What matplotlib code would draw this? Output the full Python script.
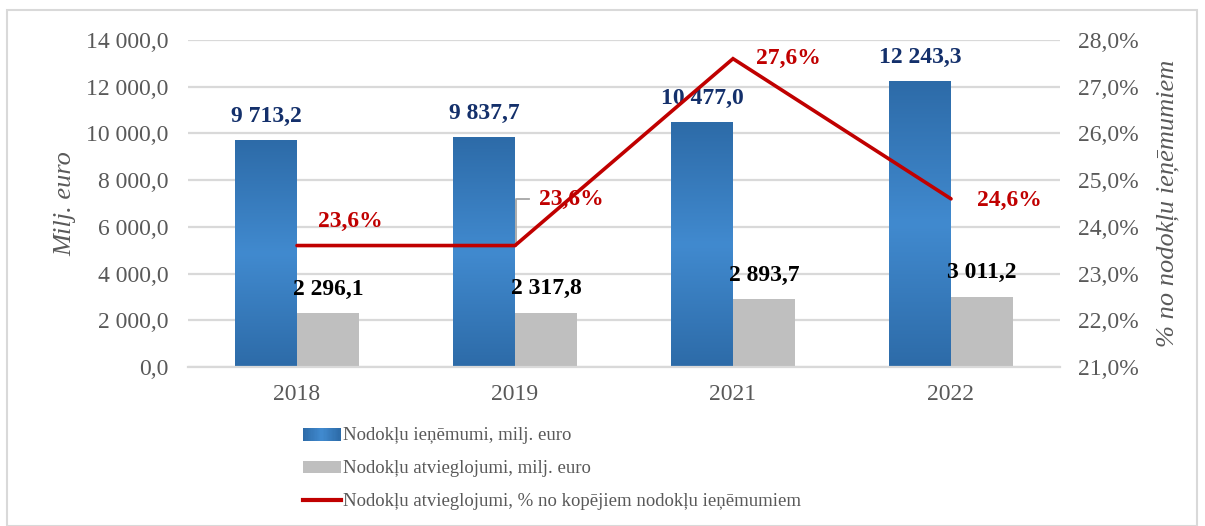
import numpy as np
import matplotlib
matplotlib.use("Agg")
import matplotlib.pyplot as plt
from matplotlib.colors import LinearSegmentedColormap
from matplotlib.patches import Rectangle
from matplotlib.lines import Line2D
from matplotlib.legend_handler import HandlerBase

# ---- data ----
years = ["2018", "2019", "2021", "2022"]
revenue = [9713.2, 9837.7, 10477.0, 12243.3]          # Nodokļu ieņēmumi, milj. euro
relief = [2296.1, 2317.8, 2893.7, 3011.2]             # Nodokļu atvieglojumi, milj. euro
relief_share = [23.6, 23.6, 27.6, 24.6]               # % no kopējiem nodokļu ieņēmumiem
left_ticks = [0, 2000, 4000, 6000, 8000, 10000, 12000, 14000]
right_ticks = [21, 22, 23, 24, 25, 26, 27, 28]

legend_labels = [
    "Nodokļu ieņēmumi, milj. euro",
    "Nodokļu atvieglojumi, milj. euro",
    "Nodokļu atvieglojumi, % no kopējiem nodokļu ieņēmumiem",
]

# ---- style ----
SERIF = "Liberation Serif"
TICK_C = "#595959"
GRID_C = "#D9D9D9"
BLUE_DARK = "#2D6BA8"
BLUE_LIGHT = "#418ACF"
GRAY_BAR = "#BFBFBF"
RED = "#C00000"
NAVY = "#14306B"

plt.rcParams["font.family"] = [SERIF, "DejaVu Serif"]

fig = plt.figure(figsize=(12.05, 5.26), dpi=100)
ax = fig.add_axes([188 / 1205, 1 - 367 / 526, (1060 - 188) / 1205, (367 - 40) / 526])
ax2 = ax.twinx()

# outer frame of the chart
fig.patches.append(Rectangle((7 / 1205, 0.0), (1197 - 7) / 1205, 1 - 10 / 526,
                             transform=fig.transFigure, fill=False,
                             edgecolor="#D9D9D9", linewidth=1.5, zorder=0))

x = np.arange(len(years))
bw = 0.284

blue_cmap = LinearSegmentedColormap.from_list(
    "bluegrad", [BLUE_DARK, BLUE_LIGHT, BLUE_DARK])
grad = np.linspace(0, 1, 256).reshape(-1, 1)

# revenue bars with vertical gradient fill
bars_rev = ax.bar(x - bw / 2, revenue, width=bw, color="none", zorder=2)
for b in bars_rev:
    x0, y0 = b.get_x(), b.get_y()
    w, h = b.get_width(), b.get_height()
    im = ax.imshow(grad, cmap=blue_cmap, aspect="auto",
                   extent=[x0, x0 + w, y0, y0 + h], origin="lower", zorder=2)
    im.set_clip_path(b)
ax.set_xlim(-0.5, len(years) - 0.5)
ax.set_ylim(0, 14000)

bars_rel = ax.bar(x + bw / 2, relief, width=bw, color=GRAY_BAR, zorder=2)


def fmt_num(v):
    return f"{v:,.1f}".replace(",", " ").replace(".", ",")


# value labels for bars
for xi, v in zip(x - bw / 2, revenue):
    ax.annotate(fmt_num(v), (xi, v), xytext=(0, 24), textcoords="offset pixels",
                ha="center", va="center", fontsize=17, fontweight="bold",
                color=NAVY, zorder=5)
for xi, v in zip(x + bw / 2, relief):
    ax.annotate(fmt_num(v), (xi, v), xytext=(0, 24), textcoords="offset pixels",
                ha="center", va="center", fontsize=17, fontweight="bold",
                color="black", zorder=5)

# grid & axes styling
ax.set_yticks(left_ticks)
ax.set_yticklabels([fmt_num(t) for t in left_ticks])
ax.yaxis.grid(True, color=GRID_C, linewidth=1.6, zorder=0)
ax.set_axisbelow(True)
ax.set_xticks(x)
ax.set_xticklabels(years)
ax.tick_params(axis="y", length=0, pad=14, labelsize=17, labelcolor=TICK_C)
ax.tick_params(axis="x", length=0, pad=12, labelsize=17, labelcolor=TICK_C)
for s in ["top", "left", "right"]:
    ax.spines[s].set_visible(False)
ax.spines["bottom"].set_color(GRID_C)
ax.spines["bottom"].set_linewidth(1.6)
ax.set_ylabel("Milj. euro", fontsize=19, style="italic", color=TICK_C)
ax.yaxis.set_label_coords(-112 / 872, 0.5)

# share line on secondary axis
ax2.set_ylim(21, 28)
ax2.plot(x, relief_share, color=RED, linewidth=2.6, solid_capstyle="round",
         solid_joinstyle="miter", zorder=4)
ax2.set_yticks(right_ticks)
ax2.set_yticklabels([f"{t:.1f}%".replace(".", ",") for t in right_ticks])
ax2.tick_params(axis="y", length=0, pad=13, labelsize=17, labelcolor=TICK_C)
for s in ["top", "left", "right", "bottom"]:
    ax2.spines[s].set_visible(False)
ax2.set_ylabel("% no nodokļu ieņēmumiem", fontsize=19, style="italic",
               color=TICK_C)
ax2.yaxis.set_label_coords(1 + 96 / 872, 0.5)

share_offsets = [(53, 24), (56, 46), (55, 0), (58, -2)]
for xi, v, off in zip(x, relief_share, share_offsets):
    ax2.annotate(f"{v:.1f}%".replace(".", ","), (xi, v), xytext=off,
                 textcoords="offset pixels", ha="center", va="center",
                 fontsize=17, fontweight="bold", color=RED, zorder=6)

# leader line for the 2019 share label
p0 = ax2.transData.transform((x[1], relief_share[1]))
pts = np.array([p0 + (1, 0), p0 + (1, 47), p0 + (14, 47)])
pts_d = ax2.transData.inverted().transform(pts)
ax2.plot(pts_d[:, 0], pts_d[:, 1], color="#A6A6A6", linewidth=1.3, zorder=3)


# legend with gradient swatch for revenue bars
class GradientHandler(HandlerBase):
    def create_artists(self, legend, orig_handle, xdescent, ydescent,
                       width, height, fontsize, trans):
        arts = []
        n = 30
        for i in range(n):
            r = Rectangle((xdescent + width * i / n, ydescent), width / n + 0.3, height,
                          facecolor=blue_cmap(i / (n - 1)), edgecolor="none",
                          transform=trans)
            arts.append(r)
        return arts


class GradientKey:
    pass


handles = [GradientKey(),
           Rectangle((0, 0), 1, 1, facecolor=GRAY_BAR, edgecolor="none"),
           Line2D([0], [0], color=RED, linewidth=3)]
leg = fig.legend(handles, legend_labels, loc="upper left",
                 bbox_to_anchor=(295 / 1205, 1 - 420 / 526),
                 frameon=False, fontsize=13.5, labelcolor=TICK_C,
                 handler_map={GradientKey: GradientHandler()},
                 handlelength=2.05, handleheight=0.65, handletextpad=0.12,
                 labelspacing=0.85, borderaxespad=0)

fig.savefig("out.png", dpi=100)
